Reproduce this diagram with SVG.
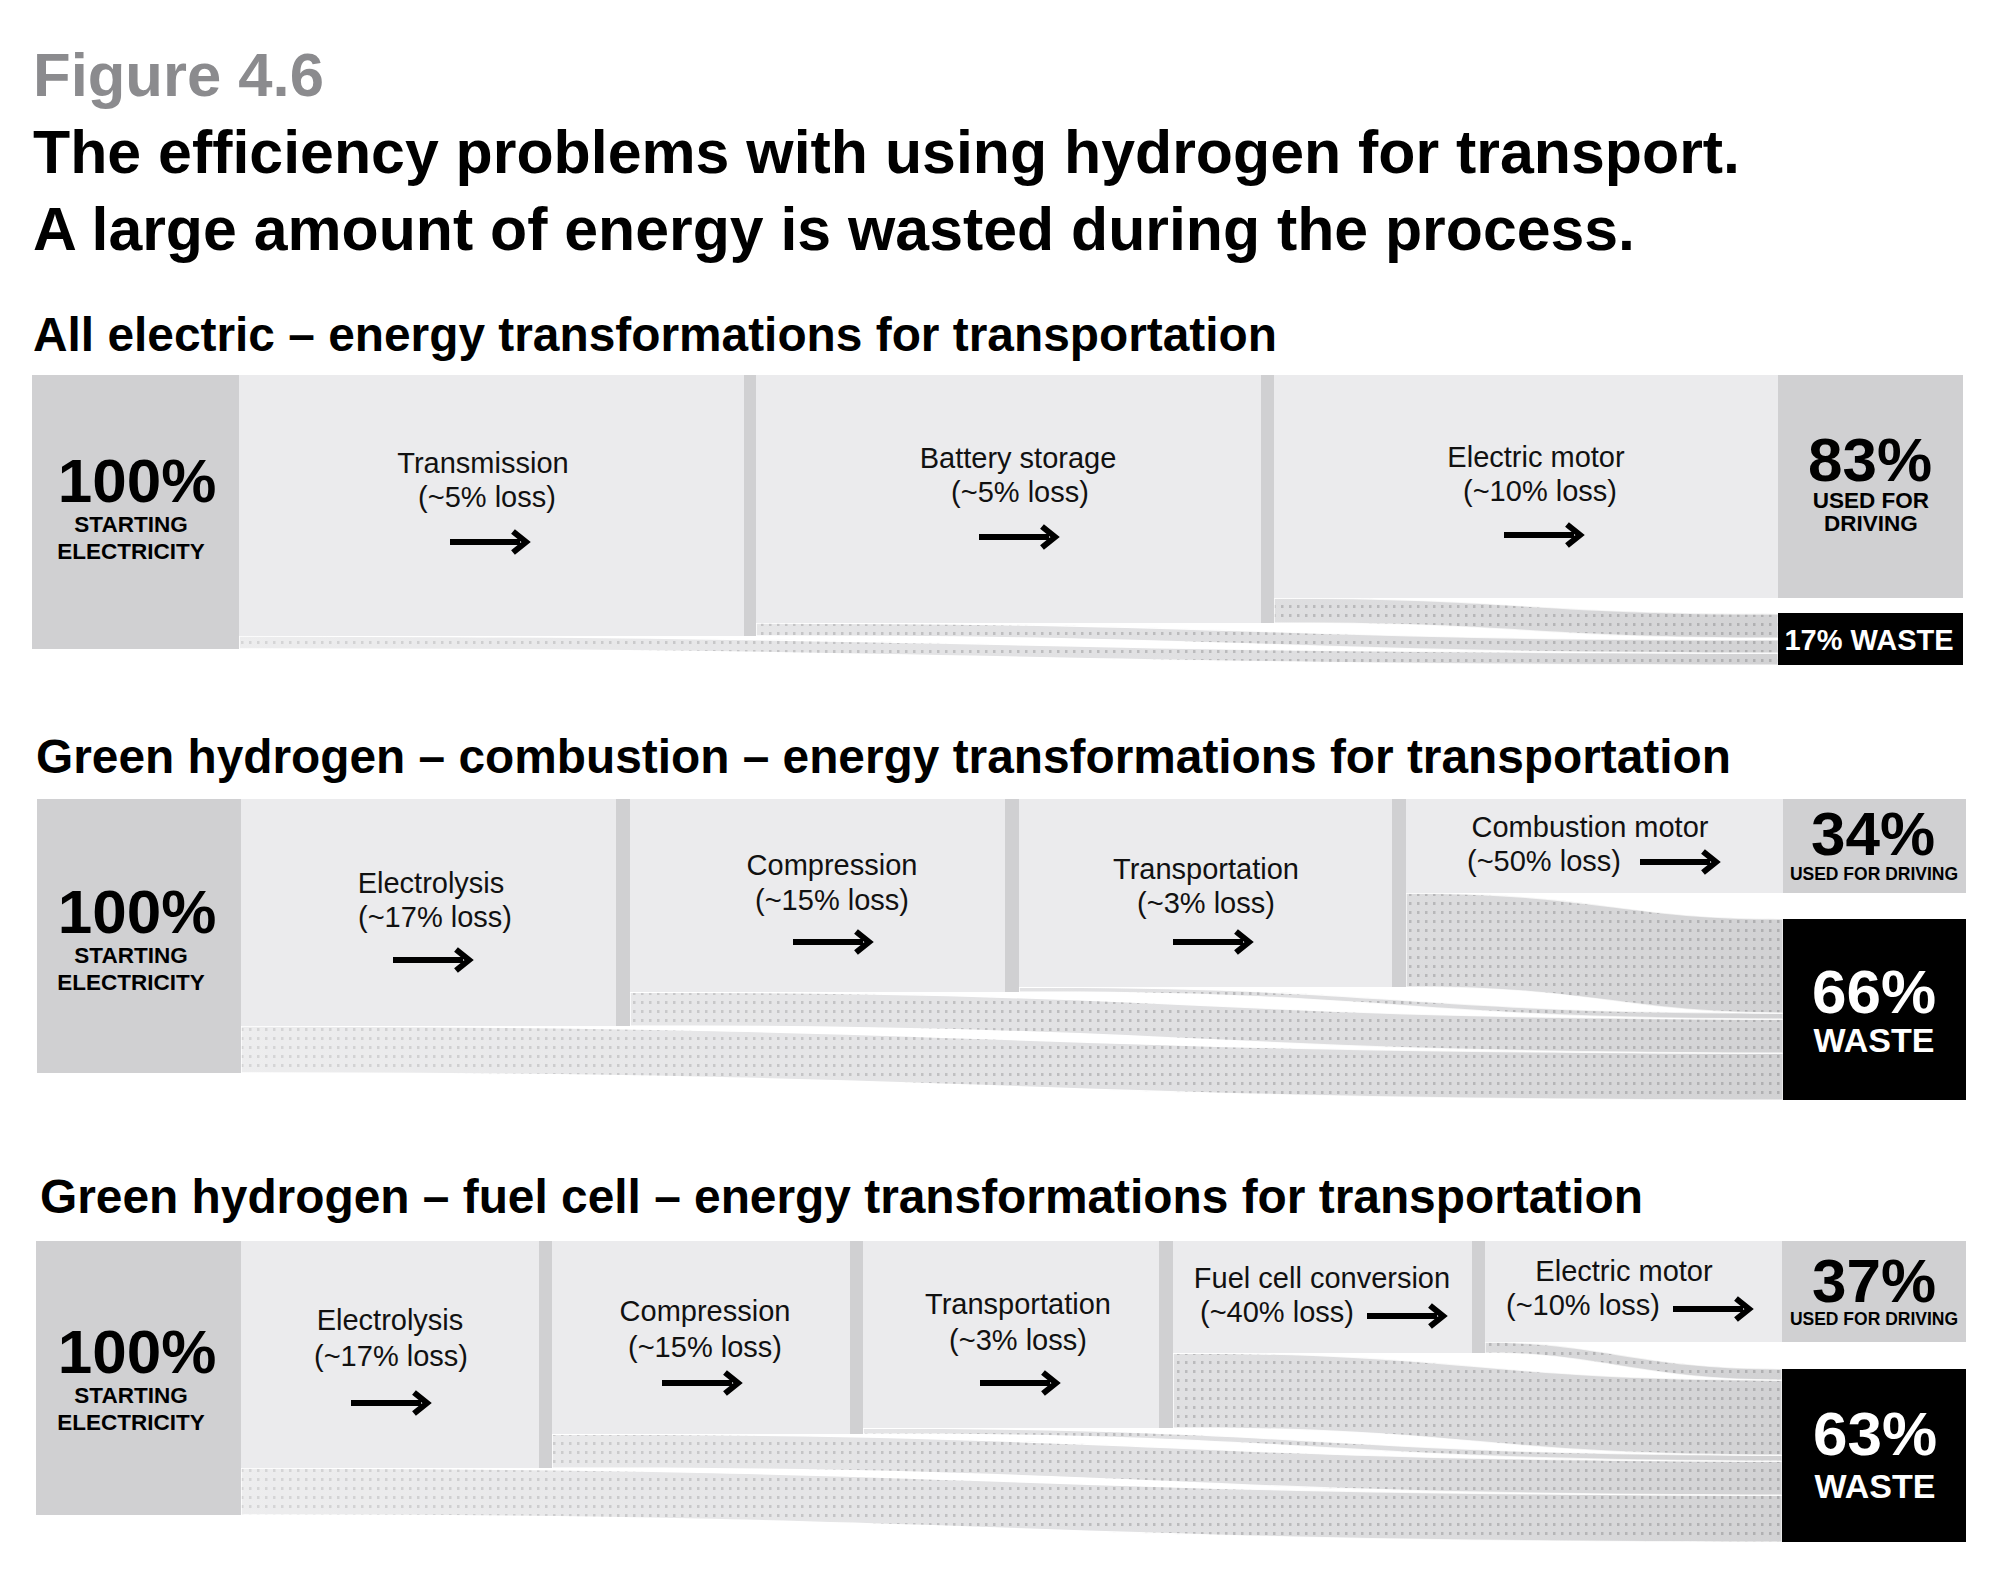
<svg xmlns="http://www.w3.org/2000/svg" xmlns:xlink="http://www.w3.org/1999/xlink" width="2000" height="1576" viewBox="0 0 2000 1576">
<defs>
<style>
.t{font-family:"Liberation Sans",Arial,Helvetica,sans-serif;font-weight:700;fill:#000}
.fig{fill:#8b8b8e}
.lbl{font-family:"Liberation Sans",Arial,Helvetica,sans-serif;font-size:29px;fill:#111;text-anchor:middle}
.lbs{font-family:"Liberation Sans",Arial,Helvetica,sans-serif;font-size:29px;fill:#111}
.big{font-family:"Liberation Sans",Arial,Helvetica,sans-serif;font-weight:700;font-size:62px;text-anchor:middle;fill:#000}
.sm{font-family:"Liberation Sans",Arial,Helvetica,sans-serif;font-weight:700;font-size:22.5px;text-anchor:middle;fill:#000}
.xs{font-family:"Liberation Sans",Arial,Helvetica,sans-serif;font-weight:700;font-size:17.5px;text-anchor:middle;fill:#000}
.w{fill:#fff}
.start{fill:#d0d0d2}
.panel{fill:#ebebed}
.div{fill:#d0d0d2}
.used{fill:#d0d0d2}
.waste{fill:#000}
.band{fill:url(#dots);stroke:#fff;stroke-width:1.5}
.shade{fill:url(#fade);stroke:none}
</style>
<pattern id="dots" width="8" height="9" patternUnits="userSpaceOnUse">
<rect width="8" height="9" fill="#dedee0"/>
<rect x="1" y="2" width="2.5" height="3" fill="#b4b4b6"/>
</pattern>
<linearGradient id="fade" gradientUnits="userSpaceOnUse" x1="240" y1="0" x2="1783" y2="0">
<stop offset="0" stop-color="#fff" stop-opacity="0.45"/>
<stop offset="0.55" stop-color="#fff" stop-opacity="0.1"/>
<stop offset="1" stop-color="#999" stop-opacity="0.18"/>
</linearGradient>
<g id="arrow">
<path d="M0 0 H70" stroke="#000" stroke-width="6" fill="none"/>
<path d="M63 -10.5 L76 0 L63 10.5" stroke="#000" stroke-width="6" fill="none"/>
</g>
<path id="b1a" d="M239 636 C1008 636 1008 653 1778 653 L1778 665 C1008 665 1008 649 239 649 Z"/>
<path id="b1b" d="M756 623 C1267 623 1267 640 1778 640 L1778 653 C1267 653 1267 636 756 636 Z"/>
<path id="b1c" d="M1274 598 C1526 598 1526 614 1778 614 L1778 638 C1526 638 1526 623 1274 623 Z"/>
<path id="b2a" d="M241 1026 C1012 1026 1012 1053 1783 1053 L1783 1100 C1012 1100 1012 1073 241 1073 Z"/>
<path id="b2b" d="M630 992 C1206 992 1206 1019 1783 1019 L1783 1053 C1206 1053 1206 1026 630 1026 Z"/>
<path id="b2c" d="M1019 987 C1401 987 1401 1013 1783 1013 L1783 1019 C1401 1019 1401 992 1019 992 Z"/>
<path id="b2d" d="M1406 893 C1600 893 1620 919 1783 919 L1783 1013 C1620 1013 1600 987 1406 987 Z"/>
<path id="b3a" d="M241 1468 C1011 1468 1011 1495 1782 1495 L1782 1542 C1011 1542 1011 1515 241 1515 Z"/>
<path id="b3b" d="M552 1434 C1167 1434 1167 1461 1782 1461 L1782 1495 C1167 1495 1167 1468 552 1468 Z"/>
<path id="b3c" d="M863 1428 C1322 1428 1322 1455 1782 1455 L1782 1461 C1322 1461 1322 1434 863 1434 Z"/>
<path id="b3d" d="M1173 1353 C1477 1353 1477 1380 1782 1380 L1782 1455 C1477 1455 1477 1428 1173 1428 Z"/>
<path id="b3e" d="M1485 1342 C1600 1342 1640 1369 1782 1369 L1782 1380 C1640 1380 1600 1353 1485 1353 Z"/>
</defs>
<rect width="2000" height="1576" fill="#fff"/>

<g id="title">
<text class="t fig" x="33" y="96" font-size="61" textLength="291" lengthAdjust="spacingAndGlyphs">Figure 4.6</text>
<text class="t" x="33" y="173" font-size="61" textLength="1707" lengthAdjust="spacingAndGlyphs">The efficiency problems with using hydrogen for transport.</text>
<text class="t" x="33" y="250" font-size="61" textLength="1602" lengthAdjust="spacingAndGlyphs">A large amount of energy is wasted during the process.</text>
</g>

<g id="connectors">
<use class="band" xlink:href="#b1a"/><use class="shade" xlink:href="#b1a"/>
<use class="band" xlink:href="#b1b"/><use class="shade" xlink:href="#b1b"/>
<use class="band" xlink:href="#b1c"/><use class="shade" xlink:href="#b1c"/>
<use class="band" xlink:href="#b2a"/><use class="shade" xlink:href="#b2a"/>
<use class="band" xlink:href="#b2b"/><use class="shade" xlink:href="#b2b"/>
<use class="band" xlink:href="#b2c"/><use class="shade" xlink:href="#b2c"/>
<use class="band" xlink:href="#b2d"/><use class="shade" xlink:href="#b2d"/>
<use class="band" xlink:href="#b3a"/><use class="shade" xlink:href="#b3a"/>
<use class="band" xlink:href="#b3b"/><use class="shade" xlink:href="#b3b"/>
<use class="band" xlink:href="#b3c"/><use class="shade" xlink:href="#b3c"/>
<use class="band" xlink:href="#b3d"/><use class="shade" xlink:href="#b3d"/>
<use class="band" xlink:href="#b3e"/><use class="shade" xlink:href="#b3e"/>
</g>

<!-- ===== Section 1: All electric ===== -->
<g id="s1">
<text class="t" x="33" y="351" font-size="48" textLength="1244" lengthAdjust="spacingAndGlyphs">All electric – energy transformations for transportation</text>
<g id="s1-start">
<rect class="start" x="32" y="375" width="207" height="274"/>
<text class="big" x="137" y="502" font-size="63">100%</text>
<text class="sm" x="131" y="532">STARTING</text>
<text class="sm" x="131" y="559">ELECTRICITY</text>
</g>
<g id="s1-transmission">
<rect class="panel" x="239" y="375" width="505" height="261"/>
<rect class="div" x="744" y="375" width="12" height="261"/>
<text class="lbl" x="483" y="473">Transmission</text>
<text class="lbl" x="487" y="507">(~5% loss)</text>
<use xlink:href="#arrow" x="450" y="542"/>
</g>
<g id="s1-battery">
<rect class="panel" x="756" y="375" width="505" height="248"/>
<rect class="div" x="1261" y="375" width="13" height="248"/>
<text class="lbl" x="1018" y="468">Battery storage</text>
<text class="lbl" x="1020" y="502">(~5% loss)</text>
<use xlink:href="#arrow" x="979" y="537"/>
</g>
<g id="s1-motor">
<rect class="panel" x="1274" y="375" width="504" height="223" fill="#eeeef0"/>
<text class="lbl" x="1536" y="467">Electric motor</text>
<text class="lbl" x="1540" y="501">(~10% loss)</text>
<use xlink:href="#arrow" x="1504" y="535"/>
</g>
<g id="s1-used">
<rect class="used" x="1778" y="375" width="185" height="223"/>
<text class="big" x="1870" y="481">83%</text>
<text class="sm" x="1871" y="508">USED FOR</text>
<text class="sm" x="1871" y="531">DRIVING</text>
</g>
<g id="s1-waste">
<rect class="waste" x="1778" y="613" width="185" height="52"/>
<text class="t w" x="1869" y="650" font-size="29" text-anchor="middle">17% WASTE</text>
</g>
</g>

<!-- ===== Section 2: Green hydrogen combustion ===== -->
<g id="s2">
<text class="t" x="36" y="773" font-size="48" textLength="1695" lengthAdjust="spacingAndGlyphs">Green hydrogen – combustion – energy transformations for transportation</text>
<g id="s2-start">
<rect class="start" x="37" y="799" width="204" height="274"/>
<text class="big" x="137" y="933" font-size="63">100%</text>
<text class="sm" x="131" y="963">STARTING</text>
<text class="sm" x="131" y="990">ELECTRICITY</text>
</g>
<g id="s2-electrolysis">
<rect class="panel" x="241" y="799" width="375" height="227"/>
<rect class="div" x="616" y="799" width="14" height="227"/>
<text class="lbl" x="431" y="893">Electrolysis</text>
<text class="lbl" x="435" y="927">(~17% loss)</text>
<use xlink:href="#arrow" x="393" y="960"/>
</g>
<g id="s2-compression">
<rect class="panel" x="630" y="799" width="375" height="193"/>
<rect class="div" x="1005" y="799" width="14" height="193"/>
<text class="lbl" x="832" y="875">Compression</text>
<text class="lbl" x="832" y="910">(~15% loss)</text>
<use xlink:href="#arrow" x="793" y="942"/>
</g>
<g id="s2-transport">
<rect class="panel" x="1019" y="799" width="373" height="188"/>
<rect class="div" x="1392" y="799" width="14" height="188"/>
<text class="lbl" x="1206" y="879">Transportation</text>
<text class="lbl" x="1206" y="913">(~3% loss)</text>
<use xlink:href="#arrow" x="1173" y="942"/>
</g>
<g id="s2-combustion">
<rect class="panel" x="1406" y="799" width="377" height="94"/>
<text class="lbl" x="1590" y="837">Combustion motor</text>
<text class="lbs" x="1467" y="871">(~50% loss)</text>
<use xlink:href="#arrow" x="1640" y="862"/>
</g>
<g id="s2-used">
<rect class="used" x="1783" y="799" width="183" height="94"/>
<text class="big" x="1873" y="855">34%</text>
<text class="xs" x="1874" y="880">USED FOR DRIVING</text>
</g>
<g id="s2-waste">
<rect class="waste" x="1783" y="919" width="183" height="181"/>
<text class="big w" x="1874" y="1013">66%</text>
<text class="t w" x="1874" y="1052" font-size="34" text-anchor="middle">WASTE</text>
</g>
</g>

<!-- ===== Section 3: Green hydrogen fuel cell ===== -->
<g id="s3">
<text class="t" x="40" y="1213" font-size="48" textLength="1603" lengthAdjust="spacingAndGlyphs">Green hydrogen – fuel cell – energy transformations for transportation</text>
<g id="s3-start">
<rect class="start" x="36" y="1241" width="205" height="274"/>
<text class="big" x="137" y="1373" font-size="63">100%</text>
<text class="sm" x="131" y="1403">STARTING</text>
<text class="sm" x="131" y="1430">ELECTRICITY</text>
</g>
<g id="s3-electrolysis">
<rect class="panel" x="241" y="1241" width="298" height="227"/>
<rect class="div" x="539" y="1241" width="13" height="227"/>
<text class="lbl" x="390" y="1330">Electrolysis</text>
<text class="lbl" x="391" y="1366">(~17% loss)</text>
<use xlink:href="#arrow" x="351" y="1403"/>
</g>
<g id="s3-compression">
<rect class="panel" x="552" y="1241" width="298" height="193"/>
<rect class="div" x="850" y="1241" width="13" height="193"/>
<text class="lbl" x="705" y="1321">Compression</text>
<text class="lbl" x="705" y="1357">(~15% loss)</text>
<use xlink:href="#arrow" x="662" y="1383"/>
</g>
<g id="s3-transport">
<rect class="panel" x="863" y="1241" width="296" height="187"/>
<rect class="div" x="1159" y="1241" width="14" height="187"/>
<text class="lbl" x="1018" y="1314">Transportation</text>
<text class="lbl" x="1018" y="1350">(~3% loss)</text>
<use xlink:href="#arrow" x="980" y="1383"/>
</g>
<g id="s3-fuelcell">
<rect class="panel" x="1173" y="1241" width="299" height="112"/>
<rect class="div" x="1472" y="1241" width="13" height="112"/>
<text class="lbl" x="1322" y="1288">Fuel cell conversion</text>
<text class="lbs" x="1200" y="1322">(~40% loss)</text>
<use xlink:href="#arrow" x="1367" y="1316"/>
</g>
<g id="s3-motor">
<rect class="panel" x="1485" y="1241" width="297" height="101"/>
<text class="lbl" x="1624" y="1281">Electric motor</text>
<text class="lbs" x="1506" y="1315">(~10% loss)</text>
<use xlink:href="#arrow" x="1673" y="1309"/>
</g>
<g id="s3-used">
<rect class="used" x="1782" y="1241" width="184" height="101"/>
<text class="big" x="1874" y="1302">37%</text>
<text class="xs" x="1874" y="1325">USED FOR DRIVING</text>
</g>
<g id="s3-waste">
<rect class="waste" x="1782" y="1369" width="184" height="173"/>
<text class="big w" x="1875" y="1455">63%</text>
<text class="t w" x="1875" y="1498" font-size="34" text-anchor="middle">WASTE</text>
</g>
</g>
</svg>
